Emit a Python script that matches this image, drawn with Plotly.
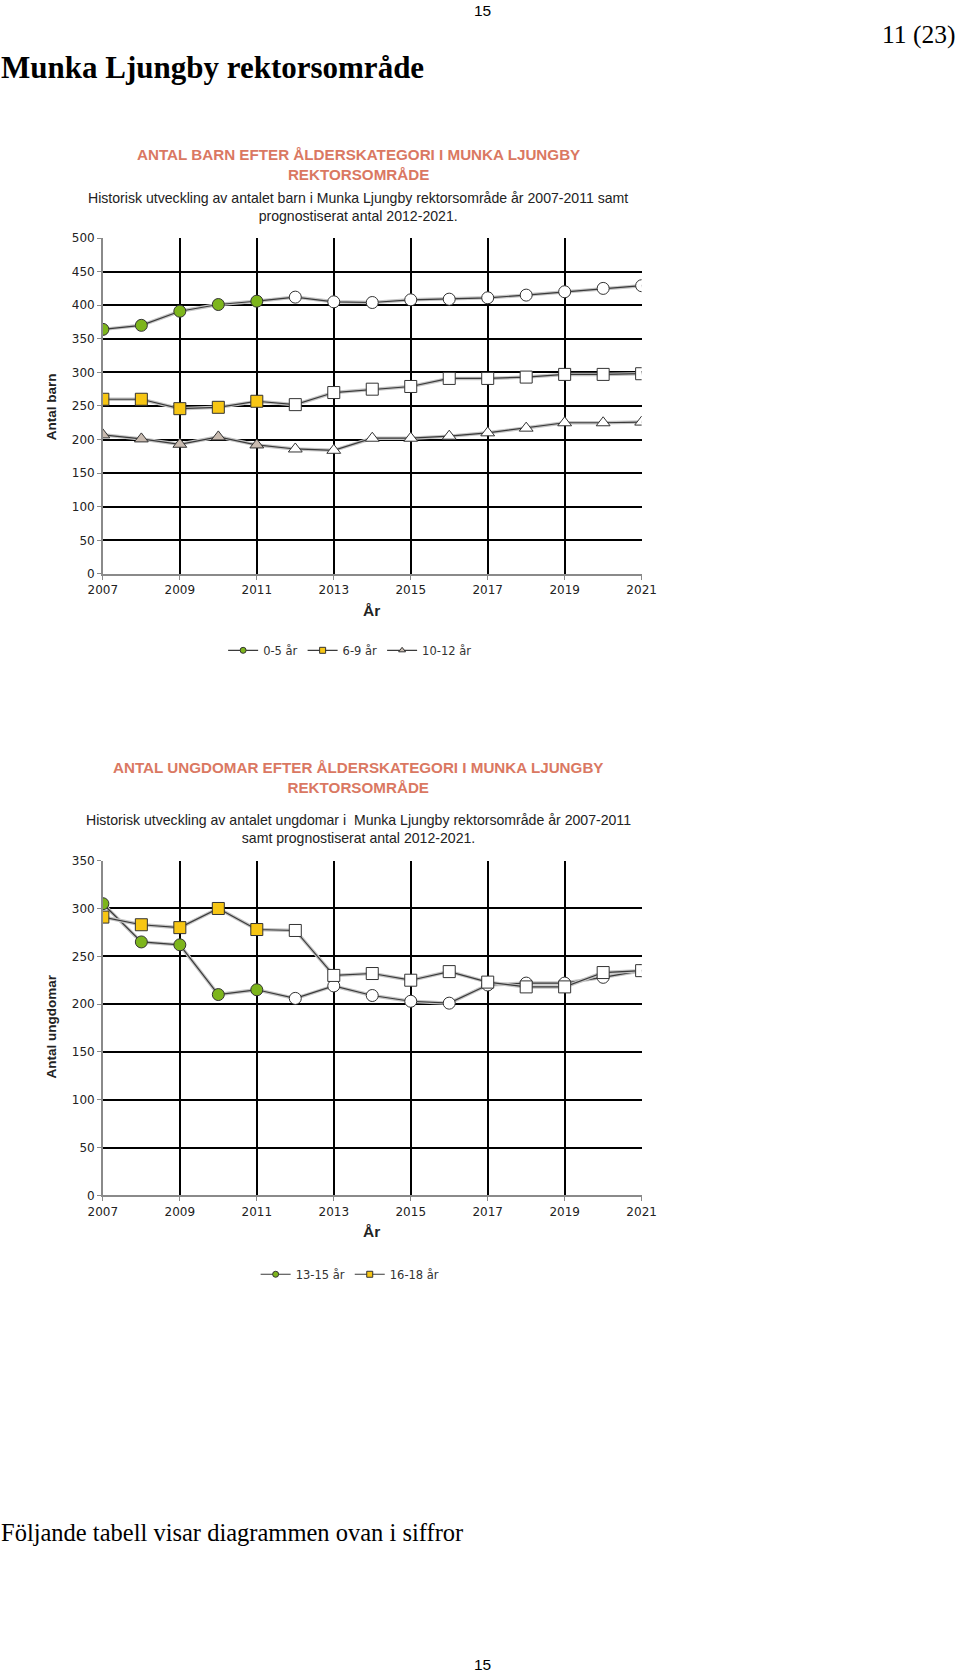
import plotly.graph_objects as go

# ---------------- data ----------------
years = list(range(2007, 2022))
last_hist_year = 2011

barn_0_5 = [364, 370, 391, 401, 406, 412, 405, 404, 408, 409, 411, 415, 420, 425, 429]
barn_6_9 = [260, 260, 246, 248, 257, 252, 270, 275, 279, 291, 291, 293, 297, 297, 298]
barn_10_12 = [207, 201, 193, 204, 192, 186, 184, 202, 202, 205, 210, 217, 225, 225, 226]

ungd_13_15 = [305, 265, 262, 210, 215, 206, 219, 209, 203, 201, 220, 222, 222, 228, 235]
ungd_16_18 = [291, 283, 280, 300, 278, 277, 230, 232, 225, 234, 223, 218, 218, 233, 235]

names_barn = ["0-5 år", "6-9 år", "10-12 år"]
names_ungd = ["13-15 år", "16-18 år"]

x_ticks = [2007, 2009, 2011, 2013, 2015, 2017, 2019, 2021]

# ---------------- style ----------------
W, H = 960, 1675
KX, KY = 0.9697, 0.9933      # compensation for how the page is photographed
GREEN = "#7DB51C"
YELLOW = "#F7C614"
TRI = "#C9BBB0"
LINE = "#3a3a3a"
SHADOW = "#c4c4c4"
TITLE_RED = "#DA7862"
TICKFONT = dict(family="DejaVu Sans", size=12, color="#222222")


def px(x):
    return (480 + (x - 480) / KX) / W


def py(y):
    return 1 - (837.5 + (y - 837.5) / KY) / H


def colors_for(fill):
    return [fill if y <= last_hist_year else "white" for y in years]


fig = go.Figure()


def add_series(vals, name, symbol, fill, xa, ya, legend, size=12):
    fig.add_trace(go.Scatter(
        x=years, y=vals, mode="lines", xaxis=xa, yaxis=ya,
        line=dict(color=SHADOW, width=3.5), showlegend=False, hoverinfo="skip"))
    fig.add_trace(go.Scatter(
        x=years, y=vals, mode="lines+markers", xaxis=xa, yaxis=ya, name=name,
        line=dict(color=LINE, width=1.2),
        marker=dict(symbol=symbol, size=size, color=colors_for(fill),
                    line=dict(color="#333333", width=1)),
        showlegend=False))
    fig.add_trace(go.Scatter(
        x=[None], y=[None], mode="lines+markers", xaxis=xa, yaxis=ya, name=name,
        line=dict(color=LINE, width=1.2),
        marker=dict(symbol=symbol, size=6, color=fill,
                    line=dict(color="#333333", width=1)),
        legend=legend, showlegend=True))


add_series(barn_0_5, names_barn[0], "circle", GREEN, "x", "y", "legend")
add_series(barn_6_9, names_barn[1], "square", YELLOW, "x", "y", "legend")
add_series(barn_10_12, names_barn[2], "triangle-up", TRI, "x", "y", "legend")

add_series(ungd_13_15, names_ungd[0], "circle", GREEN, "x2", "y2", "legend2")
add_series(ungd_16_18, names_ungd[1], "square", YELLOW, "x2", "y2", "legend2")

xdom = [px(102.5), px(641.8)]
axis_common = dict(
    showgrid=True, gridcolor="black", gridwidth=2,
    showline=True, linecolor="#8a8a8a", linewidth=1.5,
    ticks="outside", ticklen=4, tickcolor="#8a8a8a", tickwidth=1,
    zeroline=False, tickfont=TICKFONT, fixedrange=True,
)

LEGFONT = dict(family="DejaVu Sans", size=11.5, color="#333333")

fig.update_layout(
    width=W, height=H,
    margin=dict(l=0, r=0, t=0, b=0),
    paper_bgcolor="white", plot_bgcolor="white",
    xaxis=dict(domain=xdom, anchor="y", range=[2007, 2021], tickvals=x_ticks, **axis_common),
    yaxis=dict(domain=[py(573.5), py(237)], anchor="x", range=[0, 500], dtick=50, **axis_common),
    xaxis2=dict(domain=xdom, anchor="y2", range=[2007, 2021], tickvals=x_ticks, **axis_common),
    yaxis2=dict(domain=[py(1196), py(860.7)], anchor="x2", range=[0, 350], dtick=50, **axis_common),
    legend=dict(orientation="h", x=px(350), y=py(650), xanchor="center", yanchor="middle",
                font=LEGFONT, bgcolor="rgba(0,0,0,0)", itemwidth=30),
    legend2=dict(orientation="h", x=px(350), y=py(1275), xanchor="center", yanchor="middle",
                 font=LEGFONT, bgcolor="rgba(0,0,0,0)", itemwidth=30),
    showlegend=True,
)

ann = []


def text(x, y, s, size, family, color="black", xanchor="center", bold=False, angle=0, align="center"):
    if bold:
        s = "<b>" + s + "</b>"
    ann.append(dict(x=px(x), y=py(y), xref="paper", yref="paper", text=s, showarrow=False,
                    xanchor=xanchor, yanchor="middle", textangle=angle, align=align,
                    borderpad=0, font=dict(size=size, family=family, color=color)))


# page texts
text(482.7, 9.6, "15", 15.5, "Liberation Sans Narrow, Liberation Sans")
text(956, 33, "11 (23)", 25.5, "Liberation Serif", xanchor="right")
text(0, 66, "Munka Ljungby rektorsområde", 31, "Liberation Serif", xanchor="left", bold=True)
text(0, 1533.5, "Följande tabell visar diagrammen ovan i siffror", 24.5, "Liberation Serif", xanchor="left")
text(482.7, 1666, "15", 15.5, "Liberation Sans Narrow, Liberation Sans")

# chart 1 texts
text(358, 163, "ANTAL BARN EFTER ÅLDERSKATEGORI I MUNKA LJUNGBY<br>REKTORSOMRÅDE", 15.2,
     "Liberation Sans", color=TITLE_RED, bold=True)
text(358, 205.6, "Historisk utveckling av antalet barn i Munka Ljungby rektorsområde år 2007-2011 samt<br>prognostiserat antal 2012-2021.",
     14.1, "Liberation Sans", color="#222222")
text(51.3, 405.8, "Antal barn", 13.5, "Liberation Sans", color="#222222", bold=True, angle=-90)
text(371.6, 609.8, "År", 15.5, "Liberation Sans Narrow, Liberation Sans", color="#222222", bold=True)

# chart 2 texts
text(358, 777, "ANTAL UNGDOMAR EFTER ÅLDERSKATEGORI I MUNKA LJUNGBY<br>REKTORSOMRÅDE", 15.2,
     "Liberation Sans", color=TITLE_RED, bold=True)
text(358, 829.2, "Historisk utveckling av antalet ungdomar i  Munka Ljungby rektorsområde år 2007-2011<br>samt prognostiserat antal 2012-2021.",
     14.1, "Liberation Sans", color="#222222")
text(51.3, 1027, "Antal ungdomar", 13.5, "Liberation Sans", color="#222222", bold=True, angle=-90)
text(371.6, 1232.4, "År", 15.5, "Liberation Sans Narrow, Liberation Sans", color="#222222", bold=True)

fig.update_layout(annotations=ann)

fig.write_html("out.html")
